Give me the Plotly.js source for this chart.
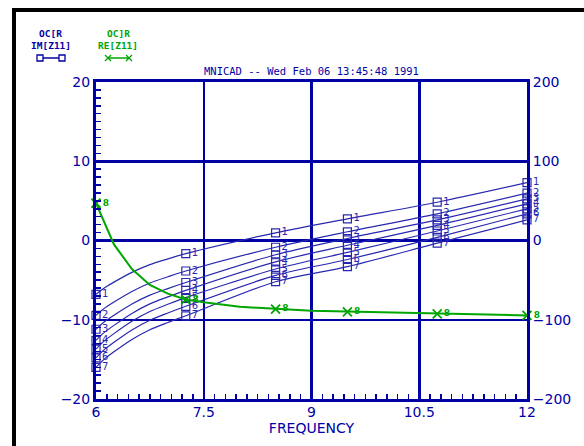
<!DOCTYPE html>
<html>
<head>
<meta charset="utf-8">
<script src="https://cdn.plot.ly/plotly-3.0.1.min.js"></script>
<style>html,body{margin:0;padding:0;background:#fff;}#chart{width:584px;height:446px;}</style>
</head>
<body>
<div id="chart"></div>
<script>
// ---- data ----
const freqLine = [6, 6.1, 6.25, 6.5, 6.75, 7, 7.25, 8.5, 9.5, 10.75, 12];
const markerIdx = [0, 6, 7, 8, 9, 10];
const im1 = [-6.8, -6.08, -5.25, -4.02, -3.04, -2.32, -1.65, 0.97, 2.74, 4.83, 7.3];
const im2 = [-9.45, -8.67, -7.77, -6.43, -5.36, -4.58, -3.85, -0.85, 1.1, 3.37, 5.97];
const im3 = [-11.2, -10.37, -9.43, -8.01, -6.89, -6.07, -5.3, -1.8, 0.25, 2.6, 5.26];
const im4 = [-12.6, -11.72, -10.71, -9.2, -8.0, -7.12, -6.3, -2.7, -0.6, 1.9, 4.63];
const im5 = [-13.7, -12.79, -11.75, -10.19, -8.96, -8.05, -7.2, -3.6, -1.5, 1.2, 4.0];
const im6 = [-14.8, -13.89, -12.85, -11.29, -10.06, -9.15, -8.3, -4.4, -2.4, 0.4, 3.37];
const im7 = [-16.0, -15.09, -14.05, -12.49, -11.26, -10.35, -9.5, -5.2, -3.3, -0.34, 2.6];
const imSeries = [im1, im2, im3, im4, im5, im6, im7];
const imLabels = ["1", "2", "3", "4", "5", "6", "7"];

const freqRe = [6, 6.25, 6.5, 6.75, 7, 7.25, 7.5, 7.75, 8, 8.25, 8.5, 8.75, 9, 9.25, 9.5, 9.75, 10, 10.25, 10.5, 10.75, 11, 11.25, 11.5, 11.75, 12];
const re1 = [47, -5, -36, -56, -67, -74.5, -78, -81, -83.5, -85, -86.5, -87.5, -88.5, -89, -90, -90.5, -91, -91.5, -92, -92.5, -93, -93, -93.5, -94, -94.5];
const reMarkerIdx = [0, 5, 10, 14, 19, 24];
const reLabel = "8";

const xTicks = [6, 7.5, 9, 10.5, 12];
const xTickText = ["6", "7.5", "9", "10.5", "12"];
const yTicks = [-20, -10, 0, 10, 20];
const y2Ticks = [-200, -100, 0, 100, 200];

const titleText = "MNICAD -- Wed Feb 06 13:45:48 1991";
const xTitle = "FREQUENCY";
const legImTop = "OC[R", legImBot = "IM[Z11]";
const legReTop = "OC]R", legReBot = "RE[Z11]";

// ---- style ----
const NAVY = "rgb(0,0,165)";
const BLUE = "rgb(40,40,175)";
const GREEN = "rgb(0,165,0)";
const L = 96, R = 527, T = 82, B = 399;
const px = x => (x - L) / (R - L);
const py = y => (B - y) / (B - T);

const traces = [];
imSeries.forEach((s, i) => {
  traces.push({
    x: freqLine, y: s, type: "scatter", mode: "lines",
    line: {color: BLUE, width: 1.2, shape: "spline", smoothing: 0.8},
    hoverinfo: "skip", cliponaxis: false
  });
  traces.push({
    x: markerIdx.map(k => freqLine[k]), y: markerIdx.map(k => s[k]),
    type: "scatter", mode: "markers+text",
    marker: {symbol: "square-open", size: 8, color: BLUE, line: {width: 1.2, color: BLUE}},
    text: markerIdx.map(() => imLabels[i]), textposition: "middle right",
    textfont: {family: "DejaVu Sans", size: 10, color: BLUE},
    cliponaxis: false
  });
});
traces.push({
  x: freqRe, y: re1, yaxis: "y2", type: "scatter", mode: "lines",
  line: {color: GREEN, width: 2}, cliponaxis: false
});
traces.push({
  x: reMarkerIdx.map(k => freqRe[k]), y: reMarkerIdx.map(k => re1[k]), yaxis: "y2",
  type: "scatter", mode: "markers+text",
  marker: {symbol: "x-thin-open", size: 9, color: GREEN, line: {width: 1.8, color: GREEN}},
  text: reMarkerIdx.map(() => reLabel), textposition: "middle right",
  textfont: {family: "DejaVu Sans", size: 9, color: GREEN, weight: "bold"},
  cliponaxis: false
});

const tickFont = {family: "DejaVu Sans", size: 14, color: NAVY};

const shapes = [
  // black frame
  {type: "rect", xref: "paper", yref: "paper", x0: px(12), x1: px(584), y0: py(12), y1: py(8), fillcolor: "black", line: {width: 0}},
  {type: "rect", xref: "paper", yref: "paper", x0: px(12), x1: px(16), y0: py(446), y1: py(8), fillcolor: "black", line: {width: 0}},
  // legend symbols
  {type: "line", xref: "paper", yref: "paper", x0: px(40), x1: px(62), y0: py(58), y1: py(58), line: {color: NAVY, width: 1.5}},
  {type: "rect", xref: "paper", yref: "paper", x0: px(37), x1: px(43), y0: py(61), y1: py(55), line: {color: NAVY, width: 1.3}, fillcolor: "white"},
  {type: "rect", xref: "paper", yref: "paper", x0: px(59), x1: px(65), y0: py(61), y1: py(55), line: {color: NAVY, width: 1.3}, fillcolor: "white"},
  {type: "line", xref: "paper", yref: "paper", x0: px(108), x1: px(129), y0: py(58), y1: py(58), line: {color: GREEN, width: 1.5}},
  {type: "line", xref: "paper", yref: "paper", x0: px(105), x1: px(111), y0: py(55), y1: py(61), line: {color: GREEN, width: 1.3}},
  {type: "line", xref: "paper", yref: "paper", x0: px(105), x1: px(111), y0: py(61), y1: py(55), line: {color: GREEN, width: 1.3}},
  {type: "line", xref: "paper", yref: "paper", x0: px(126), x1: px(132), y0: py(55), y1: py(61), line: {color: GREEN, width: 1.3}},
  {type: "line", xref: "paper", yref: "paper", x0: px(126), x1: px(132), y0: py(61), y1: py(55), line: {color: GREEN, width: 1.3}}
];

const legFont = c => ({family: "DejaVu Sans Mono", size: 9.5, color: c, weight: "bold"});
const annotations = [
  {text: titleText, xref: "paper", yref: "paper", x: px(311), y: py(71), showarrow: false,
   font: {family: "DejaVu Sans Mono", size: 10.5, color: NAVY}, xanchor: "center", yanchor: "middle"},
  {text: legImTop, xref: "paper", yref: "paper", x: px(50), y: py(33), showarrow: false, font: legFont(NAVY), xanchor: "center", yanchor: "middle"},
  {text: legImBot, xref: "paper", yref: "paper", x: px(51), y: py(45), showarrow: false, font: legFont(NAVY), xanchor: "center", yanchor: "middle"},
  {text: legReTop, xref: "paper", yref: "paper", x: px(118), y: py(33), showarrow: false, font: legFont(GREEN), xanchor: "center", yanchor: "middle"},
  {text: legReBot, xref: "paper", yref: "paper", x: px(118), y: py(45), showarrow: false, font: legFont(GREEN), xanchor: "center", yanchor: "middle"}
];

const layout = {
  width: 584, height: 446,
  margin: {l: L, r: 584 - R, t: T, b: 446 - B, pad: 0},
  paper_bgcolor: "white", plot_bgcolor: "white",
  showlegend: false,
  xaxis: {
    range: [6, 12], tickmode: "array", tickvals: xTicks, ticktext: xTickText,
    showgrid: true, gridcolor: NAVY, gridwidth: 2.5, zeroline: false,
    showline: true, linecolor: NAVY, linewidth: 3, mirror: true,
    ticks: "inside", ticklen: 6, tickwidth: 2, tickcolor: NAVY,
    minor: {dtick: 0.15, tick0: 6, ticks: "inside", ticklen: 5, tickwidth: 1.5, tickcolor: NAVY, showgrid: false},
    tickfont: tickFont, ticklabelstandoff: -2,
    title: {text: xTitle, font: {family: "DejaVu Sans", size: 14, color: NAVY}, standoff: 0}
  },
  yaxis: {
    range: [-20, 20], tickmode: "array", tickvals: yTicks,
    showgrid: true, gridcolor: NAVY, gridwidth: 2.5, zeroline: false,
    showline: true, linecolor: NAVY, linewidth: 3,
    ticks: "inside", ticklen: 6, tickwidth: 2, tickcolor: NAVY,
    minor: {dtick: 1, tick0: 0, ticks: "inside", ticklen: 5, tickwidth: 1.5, tickcolor: NAVY, showgrid: false},
    tickfont: tickFont
  },
  yaxis2: {
    range: [-200, 200], tickmode: "array", tickvals: y2Ticks, overlaying: "y", side: "right",
    showgrid: false, zeroline: false, showline: true, linecolor: NAVY, linewidth: 3,
    ticks: "", tickfont: tickFont
  },
  shapes: shapes,
  annotations: annotations
};

Plotly.newPlot("chart", traces, layout, {staticPlot: true, displayModeBar: false});
</script>
</body>
</html>
